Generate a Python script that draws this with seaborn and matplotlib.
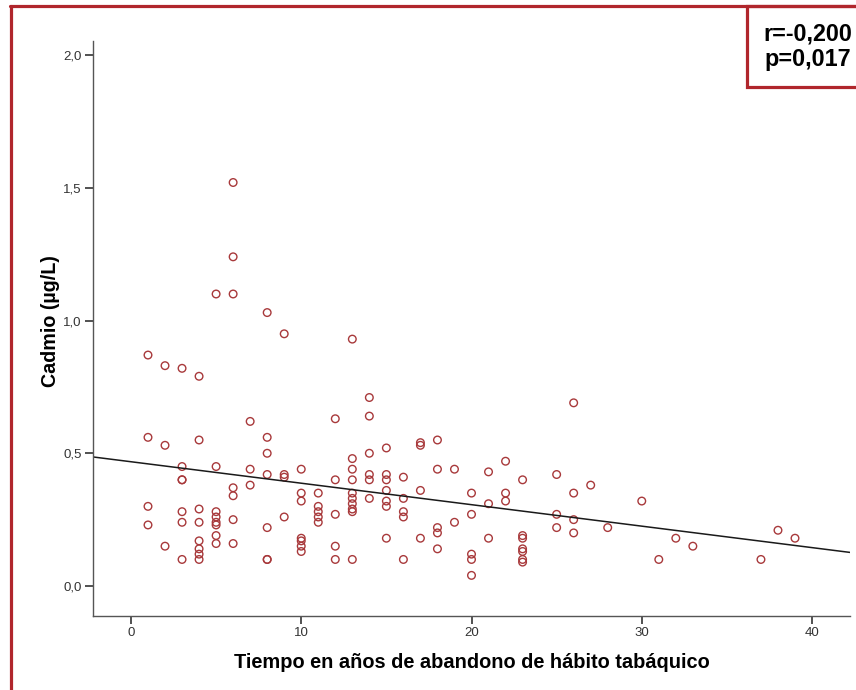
import matplotlib
matplotlib.use("Agg")
import matplotlib.pyplot as plt
from matplotlib.lines import Line2D
from matplotlib.patches import Rectangle
import numpy as np
import pandas as pd
import seaborn as sns

# Years since quitting smoking and blood cadmium (µg/L), one entry per subject
years = (
    [1] * 4 + [2] * 3 + [3] * 7 + [4] * 8 + [5] * 8 + [6] * 7 + [7] * 3 + [8] * 7
    + [9] * 4 + [10] * 7 + [11] * 5 + [12] * 5 + [13] * 10 + [14] * 6 + [15] * 7
    + [16] * 5 + [17] * 4 + [18] * 5 + [19] * 2 + [20] * 5 + [21] * 3 + [22] * 3
    + [23] * 7 + [25] * 3 + [26] * 4 + [27, 28, 30, 31, 32, 33, 37, 38, 39]
)
cadmium = [
    0.87, 0.56, 0.30, 0.23,
    0.83, 0.53, 0.15,
    0.82, 0.45, 0.40, 0.40, 0.28, 0.24, 0.10,
    0.79, 0.55, 0.29, 0.24, 0.17, 0.14, 0.12, 0.10,
    1.10, 0.45, 0.28, 0.26, 0.24, 0.23, 0.19, 0.16,
    1.52, 1.24, 1.10, 0.37, 0.34, 0.25, 0.16,
    0.62, 0.44, 0.38,
    1.03, 0.56, 0.50, 0.42, 0.22, 0.10, 0.10,
    0.95, 0.42, 0.41, 0.26,
    0.44, 0.35, 0.32, 0.18, 0.17, 0.15, 0.13,
    0.35, 0.30, 0.28, 0.26, 0.24,
    0.63, 0.40, 0.27, 0.15, 0.10,
    0.93, 0.48, 0.44, 0.40, 0.35, 0.33, 0.31, 0.29, 0.28, 0.10,
    0.71, 0.64, 0.50, 0.42, 0.40, 0.33,
    0.52, 0.42, 0.40, 0.36, 0.32, 0.30, 0.18,
    0.41, 0.33, 0.28, 0.26, 0.10,
    0.54, 0.53, 0.36, 0.18,
    0.55, 0.44, 0.22, 0.20, 0.14,
    0.44, 0.24,
    0.35, 0.27, 0.12, 0.10, 0.04,
    0.43, 0.31, 0.18,
    0.47, 0.35, 0.32,
    0.40, 0.19, 0.18, 0.14, 0.13, 0.10, 0.09,
    0.42, 0.27, 0.22,
    0.69, 0.35, 0.25, 0.20,
    0.38, 0.22, 0.32, 0.10, 0.18, 0.15, 0.10, 0.21, 0.18,
]

x_ticks = [0, 10, 20, 30, 40]
y_ticks = [0.0, 0.5, 1.0, 1.5, 2.0]
y_tick_labels = ["0,0", "0,5", "1,0", "1,5", "2,0"]
stats_text = "r=-0,200\np=0,017"
x_title = "Tiempo en años de abandono de hábito tabáquico"
y_title = "Cadmio (µg/L)"

df = pd.DataFrame({"years": years, "cadmium": cadmium})

sns.set_style("white")
plt.rcParams["font.family"] = ["Liberation Sans", "DejaVu Sans"]

W, H = 856, 690
fig = plt.figure(figsize=(W / 100, H / 100), dpi=100)
fig.patch.set_facecolor("white")

left, right, top, bottom = 93, 850, 41, 616
ax = fig.add_axes([left / W, 1 - bottom / H, (right - left) / W, (bottom - top) / H])

ax.set_xlim(-2.23, 42.23)
ax.set_ylim(-0.113, 2.053)

marker_color = "#a8393b"
sns.regplot(
    data=df, x="years", y="cadmium", ax=ax, ci=None, truncate=False,
    color="#1a1a1a",
    scatter_kws=dict(facecolors="none", edgecolors=marker_color, s=30,
                     linewidths=1.0, alpha=1),
    line_kws=dict(lw=1.1, color="#1a1a1a"),
)

ax.set_xlim(-2.23, 42.23)
ax.set_ylim(-0.113, 2.053)
ax.set_xticks(x_ticks)
ax.set_yticks(y_ticks)
ax.set_yticklabels(y_tick_labels)
ax.set_xlabel("")
ax.set_ylabel("")

for side in ("top", "right"):
    ax.spines[side].set_visible(False)
for side in ("left", "bottom"):
    ax.spines[side].set_color("#555555")
    ax.spines[side].set_linewidth(1.0)

ax.tick_params(axis="both", direction="out", length=6, width=1.2,
               color="#333333", labelsize=9.5, labelcolor="#333333",
               bottom=True, left=True, pad=2)

fig.text(472 / W, 1 - 663 / H, x_title, ha="center", va="center",
         fontsize=14.4, fontweight="bold", color="black")
fig.text(51 / W, 1 - 321 / H, y_title, ha="center", va="center",
         rotation=90, fontsize=14.2, fontweight="bold", color="black")

# Dark red frame around the figure and the statistics box
frame_red = "#b0262c"
fig.add_artist(Line2D([10.5 / W, 10.5 / W], [0, 1 - 6 / H],
                      transform=fig.transFigure, color=frame_red, lw=2.3))
fig.add_artist(Line2D([9.5 / W, 1], [1 - 6 / H, 1 - 6 / H],
                      transform=fig.transFigure, color=frame_red, lw=2.3))
fig.add_artist(Rectangle((747 / W, 1 - 87 / H), 120 / W, 81 / H,
                         transform=fig.transFigure, facecolor="white",
                         edgecolor=frame_red, lw=2.3, clip_on=False))
fig.text(808 / W, 1 - 47 / H, stats_text, ha="center", va="center",
         fontsize=16.8, fontweight="bold", color="black", linespacing=1.15)

fig.savefig("out.png", dpi=100)
